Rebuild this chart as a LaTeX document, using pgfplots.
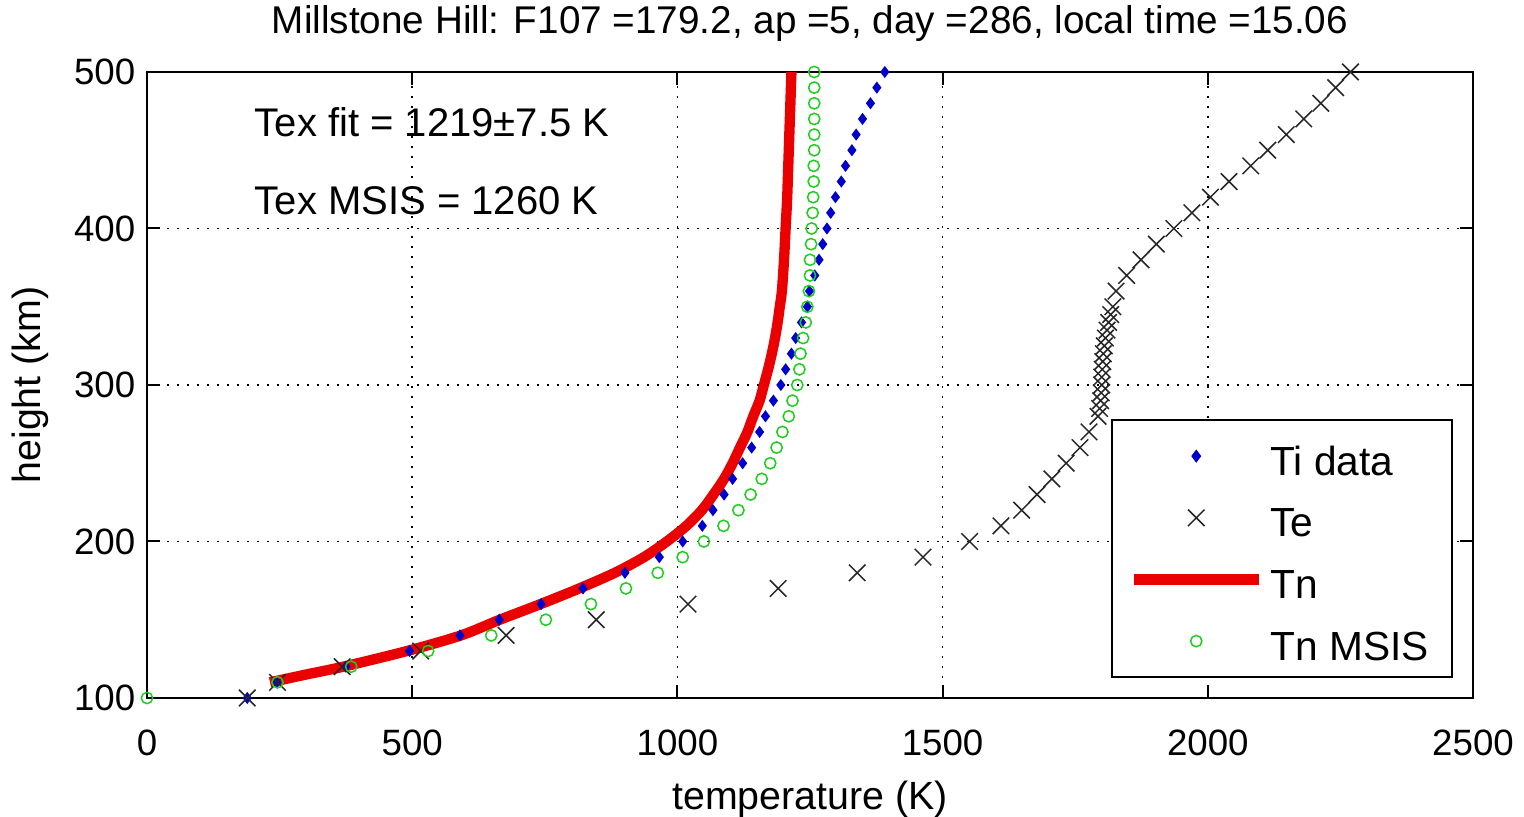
\documentclass[border=0pt]{standalone}
\usepackage{fontspec}
\setmainfont{Liberation Sans}
\usepackage{pgfplots}
\usepackage{pgfplotstable}
\pgfplotsset{compat=1.18}

\definecolor{tiblue}{RGB}{0,0,205}
\definecolor{msisgreen}{RGB}{30,205,30}
\definecolor{tnred}{RGB}{235,0,0}

% height (km), temperature (K)
\pgfplotstableread{
h T
100 189
110 245
120 375
130 495
140 590
150 664
160 743
170 822
180 901
190 966
200 1010
210 1047
220 1067
230 1088
240 1104
250 1123
260 1140
270 1155
280 1166
290 1181
300 1195
310 1204
320 1215
330 1223
340 1234
350 1245
360 1249
370 1259
380 1267
390 1274
400 1282
410 1289
420 1298
430 1309
440 1317
450 1329
460 1337
470 1349
480 1364
490 1376
500 1391
}\tidata

\pgfplotstableread{
h T
100 189
110 246
120 368
130 516
140 677
150 847
160 1020
170 1190
180 1339
190 1463
200 1551
210 1610
220 1649
230 1678
240 1706
250 1733
260 1759
270 1776
280 1793
285 1796
290 1798
295 1799
300 1800
305 1800
310 1801
315 1802
320 1803
325 1805
330 1807
335 1810
340 1813
345 1817
350 1821
360 1827
370 1847
380 1874
390 1903
400 1936
410 1970
420 2005
430 2040
440 2081
450 2113
460 2148
470 2181
480 2213
490 2241
500 2269
}\tedata

\pgfplotstableread{
h T
110 232
115 300
120 370
130 490
140 592
150 665
160 742
170 815
180 882
190 937
200 980
210 1017
220 1046
230 1068
240 1088
250 1104
260 1118
270 1132
280 1143
290 1155
300 1163
310 1171
320 1178
330 1184
340 1189
350 1193
360 1197
380 1201
400 1204
420 1207
450 1210
480 1213
500 1215
}\tnfit

\pgfplotstableread{
h T
100 0
110 246
120 385
130 530
140 649
150 752
160 837
170 903
180 963
190 1010
200 1050
210 1087
220 1115
230 1138
240 1159
250 1175
260 1187
270 1198
280 1210
290 1217
300 1226
310 1230
320 1232
330 1237
340 1242
350 1245
360 1248
370 1250
380 1250
390 1252
400 1253
410 1255
420 1256
430 1257
440 1257
450 1258
460 1258
470 1258
480 1258
490 1258
500 1258
}\msis

\begin{document}
\begin{tikzpicture}
\useasboundingbox (-44.1pt,-35.7pt) rectangle (413.1pt,209.4pt);
\begin{axis}[
    scale only axis,
    width=397.8pt, height=187.8pt,
    xmin=0, xmax=2500, ymin=100, ymax=500,
    xtick={0,500,...,2500}, ytick={100,200,...,500},
    tick align=inside, tick pos=both, major tick length=4pt,
    axis line style={line width=0.6pt},
    every tick/.style={black, line width=0.6pt},
    grid=major,
    grid style={black, line width=0.5pt, dash pattern=on 0.7pt off 2.3pt},
    /pgf/number format/assume math mode=true,
    /pgf/number format/set thousands separator={},
    tick label style={font=\fontsize{11}{13}\selectfont},
    xticklabel style={yshift=-6pt},
    label style={font=\fontsize{11.8}{14}\selectfont},
    xlabel={temperature (K)},
    ylabel={height (km)},
    xlabel style={at={(axis description cs:0.5,-0.162)}, anchor=center},
    ylabel style={at={(axis description cs:-0.088,0.5)}, anchor=center},
    every axis title shift=0pt,
    title={Millstone Hill: F107 =179.2, ap =5, day =286, local time =15.06},
    title style={at={(axis description cs:0.5,1.077)}, anchor=center,
                 font=\fontsize{11.6}{14}\selectfont},
    legend cell align=left,
    legend image code/.code={\draw[mark repeat=2,mark phase=2,#1]
        plot coordinates {(0pt,0pt) (18.75pt,0pt) (37.5pt,0pt)};},
    legend style={at={(0.985,0.032)}, anchor=south east, draw=black,
                  line width=0.6pt, font=\fontsize{12.2}{14}\selectfont,
                  nodes={text height=11.5pt, text depth=0pt},
                  row sep=3pt, inner xsep=5pt, inner ysep=3pt},
]
\addplot[only marks, mark=diamond*, mark size=1.5pt, color=tiblue]
    table[x=T, y=h] {\tidata};
\addlegendentry{Ti data}
\addplot[only marks, mark=x, mark size=3.5pt, color=black!85,
         mark options={line width=0.45pt}]
    table[x=T, y=h] {\tedata};
\addlegendentry{Te}
\addplot[tnred, line width=3.1pt, smooth, no marks]
    table[x=T, y=h] {\tnfit};
\addlegendentry{Tn}
\addplot[only marks, mark=o, mark size=1.7pt, color=msisgreen,
         mark options={line width=0.45pt}]
    table[x=T, y=h] {\msis};
\addlegendentry{Tn MSIS}
\node[anchor=west, inner sep=0pt, font=\fontsize{12}{14}\selectfont]
    at (axis cs:202,468) {Tex fit = 1219±7.5 K};
\node[anchor=west, inner sep=0pt, font=\fontsize{12}{14}\selectfont]
    at (axis cs:202,418) {Tex MSIS = 1260 K};
\end{axis}
\end{tikzpicture}
\end{document}
